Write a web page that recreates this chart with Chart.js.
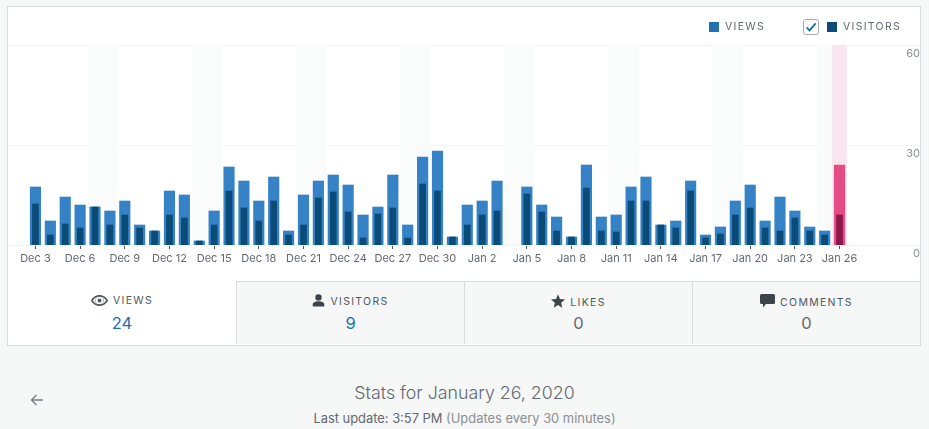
<!DOCTYPE html>
<html>
<head>
<meta charset="utf-8">
<title>Stats for January 26, 2020</title>
<script src="https://cdn.jsdelivr.net/npm/chart.js@4/dist/chart.umd.js"></script>
<style>
  html, body { margin: 0; padding: 0; width: 929px; height: 429px; overflow: hidden; background: #f6f7f7; font-family: Inter, "Open Sans", sans-serif; color: #646970; }
  .abs { position: absolute; }
  #card { left: 7px; top: 6px; width: 912px; height: 338px; background: #fff; border: 1px solid #dcdcde; box-sizing: content-box; }
  #chart { position: absolute; left: 8px; top: 8px; }
  .legend-text { font-size: 10.5px; letter-spacing: 1.3px; line-height: 14px; color: #646970; top: 20px; }
  .swatch { width: 10px; height: 10px; top: 22px; }
  #check { left: 803px; top: 19px; width: 14px; height: 14px; border: 1px solid #a7aaad; border-radius: 3px; background: #fff; }
  .tab { top: 281px; width: 227px; height: 63px; background: #f6f7f7; border-top: 1px solid #dcdcde; border-left: 1px solid #dcdcde; text-align: center; }
  .tab .name { position: absolute; left: 0; right: 0; top: 12px; font-size: 10.5px; letter-spacing: 1.3px; line-height: 14px; color: #50575e; }
  .tab .name svg { vertical-align: -2px; margin-right: 5px; }
  .tab .num { position: absolute; left: 0; right: 0; top: 31px; font-size: 16.5px; line-height: 20px; color: #2271b1; }
  .tab .num.zero { color: #646970; }
  #title { left: 0; width: 929px; top: 382px; text-align: center; font-size: 17.8px; font-weight: 300; line-height: 22px; color: #646970; }
  #sub { left: 0; width: 929px; top: 411px; text-align: center; font-size: 12.9px; line-height: 16px; color: #646970; }
  #sub span { color: #8c8f94; }
</style>
</head>
<body>
<div id="card" class="abs"></div>
<canvas id="chart" width="912" height="273" style="width:912px;height:273px"></canvas>

<div class="abs swatch" style="left:709px;background:#2271b1"></div>
<div class="abs legend-text" style="left:725px">VIEWS</div>
<div id="check" class="abs">
  <svg width="14" height="14" viewBox="0 0 14 14" style="display:block"><path d="M2.6 7.4 L5.6 10.4 L11.6 3.4" fill="none" stroke="#0a6ea0" stroke-width="1.7"/></svg>
</div>
<div class="abs swatch" style="left:827px;background:#0a4b78"></div>
<div class="abs legend-text" style="left:843px">VISITORS</div>

<div class="abs tab" style="left:8px;width:228px;background:#fff;border-top:0;border-left:0;top:282px;height:63px">
  <div class="name"><svg width="17" height="11" viewBox="0 0 17 11"><path d="M8.5 0C4.6 0 1.6 2.4 0 5.5 1.6 8.6 4.6 11 8.5 11s6.900-2.400 8.500-5.500C15.400 2.400 12.400 0 8.500 0zm0 9.300a3.800 3.800 0 1 1 0-7.600 3.800 3.800 0 0 1 0 7.600zM8.500 3.500a2 2 0 1 0 0 4 2 2 0 0 0 0-4zM1.800 5.500C3.200 3.500 5 2.200 6.400 1.700 5.200 2.500 4.300 3.900 4.300 5.500s.9 3 2.100 3.800C5 8.800 3.200 7.500 1.800 5.500zm8.800 3.800c1.200-.8 2.100-2.200 2.100-3.800s-.9-3-2.100-3.800c1.400.5 3.200 1.800 4.600 3.800-1.400 2-3.200 3.300-4.600 3.800z" fill="#50575e"/></svg>VIEWS</div>
  <div class="num">24</div>
</div>
<div class="abs tab" style="left:236px;height:62px">
  <div class="name"><svg width="13" height="13" viewBox="0 0 13 13"><circle cx="6.500" cy="3.400" r="3.200" fill="#3c434a"/><path d="M0.800 12.500V10.300C0.800 8.200 3.300 7.200 6.500 7.200S12.200 8.200 12.200 10.300V12.500Z" fill="#3c434a"/></svg>VISITORS</div>
  <div class="num">9</div>
</div>
<div class="abs tab" style="left:464px;height:62px">
  <div class="name"><svg width="14" height="14" viewBox="0 0 14 14"><path d="M7 0.300 8.900 5 14 5.400 10.100 8.700 11.300 13.700 7 11 2.700 13.700 3.900 8.700 0 5.400 5.100 5Z" fill="#3c434a"/></svg>LIKES</div>
  <div class="num zero">0</div>
</div>
<div class="abs tab" style="left:692px;width:227px;height:62px">
  <div class="name"><svg width="15" height="14" viewBox="0 0 15 14"><path d="M1.500 0H13.500A1.500 1.500 0 0 1 15 1.500V8.500A1.500 1.500 0 0 1 13.500 10H6L3 13.500V10H1.500A1.500 1.500 0 0 1 0 8.500V1.500A1.500 1.500 0 0 1 1.500 0Z" fill="#3c434a"/></svg>COMMENTS</div>
  <div class="num zero">0</div>
</div>

<svg class="abs" style="left:30px;top:393px" width="14" height="14" viewBox="0 0 14 14"><path d="M1.500 7H13M6.500 2 1.500 7 6.500 12" fill="none" stroke="#787c82" stroke-width="1.300"/></svg>
<div id="title" class="abs">Stats for January 26, 2020</div>
<div id="sub" class="abs">Last update: 3:57 PM <span>(Updates every 30 minutes)</span></div>

<script>
const days = [
  "Dec 3", "Dec 4", "Dec 5", "Dec 6", "Dec 7", "Dec 8", "Dec 9", "Dec 10", "Dec 11", "Dec 12",
  "Dec 13", "Dec 14", "Dec 15", "Dec 16", "Dec 17", "Dec 18", "Dec 19", "Dec 20", "Dec 21", "Dec 22",
  "Dec 23", "Dec 24", "Dec 25", "Dec 26", "Dec 27", "Dec 28", "Dec 29", "Dec 30", "Dec 31", "Jan 1",
  "Jan 2", "Jan 3", "Jan 4", "Jan 5", "Jan 6", "Jan 7", "Jan 8", "Jan 9", "Jan 10", "Jan 11",
  "Jan 12", "Jan 13", "Jan 14", "Jan 15", "Jan 16", "Jan 17", "Jan 18", "Jan 19", "Jan 20", "Jan 21",
  "Jan 22", "Jan 23", "Jan 24", "Jan 25", "Jan 26"
];
const views = [
  17.4, 7.2, 14.4, 12, 11.4, 10.2, 13.2, 6, 4.2, 16.2,
  15, 1.2, 10.2, 23.4, 19.2, 13.2, 20.4, 4.2, 15, 19.2,
  21, 18, 9, 11.4, 21, 6, 26.4, 28.2, 2.4, 12,
  13.2, 19.2, null, 17.4, 12, 8.4, 2.4, 24, 8.4, 9,
  17.4, 20.4, 6, 7.2, 19.2, 3, 5.4, 13.2, 18, 7.2,
  14.4, 10.2, 5.4, 4.2, 24
];
const visitors = [
  12.3, 3, 6.3, 5.1, 11.4, 6, 9, 5.1, 4.2, 9,
  8.1, 1.2, 6, 16.2, 11.1, 7.2, 13.2, 3, 6, 14.1,
  15.9, 9.9, 2.1, 9.3, 11.1, 2.1, 18.3, 16.2, 2.4, 6,
  9, 10.2, null, 15.3, 9.9, 4.2, 2.4, 17.1, 4.2, 3.9,
  13.2, 13.2, 6, 5.1, 16.2, 2.1, 3.3, 9, 11.1, 5.1,
  4.2, 8.1, 4.2, 3, 9
];
const weekendDays = [
  "Dec 7", "Dec 8", "Dec 14", "Dec 15", "Dec 21", "Dec 22", "Dec 28", "Dec 29",
  "Jan 4", "Jan 5", "Jan 11", "Jan 12", "Jan 18", "Jan 19", "Jan 25"
];
const selectedDay = "Jan 26";
const axisMax = 60;
const yTicks = [0, 30, 60];

// full width hairlines, the reference runs them past the plot on both sides
const wideGrid = {
  id: "wideGrid",
  beforeDatasetsDraw(chart) {
    const ctx = chart.ctx;
    const y = chart.scales.y;
    ctx.save();
    ctx.strokeStyle = "#f3f4f5";
    ctx.lineWidth = 1;
    yTicks.forEach(t => {
      const py = Math.round(y.getPixelForValue(t)) + 0.5;
      ctx.beginPath();
      ctx.moveTo(0, py);
      ctx.lineTo(chart.width, py);
      ctx.stroke();
    });
    ctx.restore();
  }
};

const isSelected = c => days[c.dataIndex] === selectedDay;

new Chart(document.getElementById("chart"), {
  type: "bar",
  plugins: [wideGrid],
  data: {
    labels: days,
    datasets: [
      {
        label: "Visitors",
        data: visitors,
        order: 1,
        grouped: false,
        barThickness: 6,
        backgroundColor: c => (isSelected(c) ? "#8c1749" : "#0a4b78")
      },
      {
        label: "Views",
        data: views,
        order: 2,
        grouped: false,
        barThickness: 10.5,
        backgroundColor: c => (isSelected(c) ? "#e34c84" : "#3582c6")
      },
      {
        label: "Background",
        data: days.map(d => (d === selectedDay || weekendDays.includes(d) ? axisMax : null)),
        order: 3,
        grouped: false,
        barPercentage: 1,
        categoryPercentage: 1,
        backgroundColor: c => (isSelected(c) ? "#f9e6ee" : "#fafbfb")
      }
    ]
  },
  options: {
    responsive: false,
    animation: false,
    events: [],
    layout: { padding: { left: 20, top: 37, right: 0, bottom: 12 } },
    plugins: { legend: { display: false }, tooltip: { enabled: false } },
    scales: {
      x: {
        afterFit: s => { s.height = 24; },
        border: { display: false },
        grid: {
          offset: false, // ticks under the bars, not between them
          drawOnChartArea: false,
          drawTicks: true,
          tickLength: 4,
          tickWidth: 1,
          tickColor: "#50575e"
        },
        ticks: {
          autoSkip: false,
          maxRotation: 0,
          padding: 3,
          color: "#646970",
          font: { family: "Inter", size: 11 },
          callback(v, i) { return i % 3 === 0 ? days[i] : null; }
        }
      },
      y: {
        position: "right",
        min: 0,
        max: axisMax,
        afterFit: s => { s.width = 73; },
        afterBuildTicks: s => { s.ticks = yTicks.map(v => ({ value: v })); },
        border: { display: false },
        grid: { display: false },
        ticks: {
          padding: 20,
          crossAlign: "far",
          labelOffset: 9,
          color: "#8c8f94",
          font: { family: "Inter", size: 11 }
        }
      }
    }
  }
});
</script>
</body>
</html>
